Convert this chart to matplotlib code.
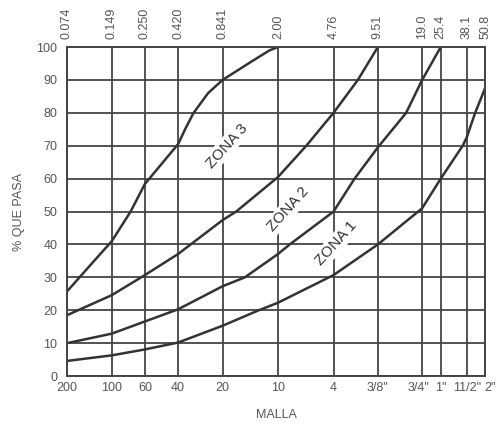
import numpy as np
import matplotlib
matplotlib.use("Agg")
import matplotlib.pyplot as plt
import matplotlib.transforms as mtransforms
from matplotlib.ticker import NullLocator

plt.rcParams['font.family'] = ['Liberation Sans', 'DejaVu Sans']

# aberturas de tamiz (mm) y designacion de malla
tamiz_mm = [0.074, 0.149, 0.250, 0.420, 0.841, 2.00, 4.76, 9.51, 19.0, 25.4, 38.1, 50.8]
tamiz_txt = ["0.074", "0.149", "0.250", "0.420", "0.841", "2.00", "4.76", "9.51",
             "19.0", "25.4", "38.1", "50.8"]
malla_txt = ["200", "100", "60", "40", "20", "10", "4", '3/8"', '3/4"', '1"', '11/2"', '2"']

# curvas limite
curva_a_x = [0.074, 0.106, 0.149, 0.200, 0.250, 0.420, 0.472, 0.535, 0.671, 0.841, 1.30, 1.75, 2.00]
curva_a_y = [25.7, 33.6, 41, 50, 58.4, 70.5, 75.3, 80, 86, 90, 95.4, 99, 100]

curva_b_x = [0.074, 0.149, 0.250, 0.420, 0.841, 1.04, 2.00, 3.11, 4.76, 6.96, 9.51]
curva_b_y = [18.5, 24.6, 30.7, 37.1, 47.4, 50, 60.5, 70, 80, 90, 100]

curva_c_x = [0.074, 0.149, 0.250, 0.420, 0.841, 1.19, 2.00, 2.40, 4.76, 6.61, 9.51, 14.8, 19.0, 25.4]
curva_c_y = [10, 12.9, 16.6, 20.3, 27.3, 30, 37.1, 40, 50, 60, 69.5, 80, 90, 100]

curva_d_x = [0.074, 0.149, 0.250, 0.420, 0.841, 1.48, 2.00, 4.76, 9.51, 19.0, 25.4, 35.8, 38.1, 43.5, 50.8]
curva_d_y = [4.6, 6.3, 8.1, 10.2, 15.3, 20, 22.3, 30.7, 40, 51, 60, 70, 72.5, 80, 87.5]

zonas = ["ZONA 3", "ZONA 2", "ZONA 1"]
zonas_x = [0.90, 2.34, 4.96]
zonas_y = [70, 50.6, 40.4]

gris = "#444444"
texto = "#555555"

fig = plt.figure(figsize=(4.96, 4.24), dpi=100)
ax = fig.add_axes([0.135, 0.113, 0.843, 0.776])

ax.set_xscale("log")
ax.set_xlim(tamiz_mm[0], tamiz_mm[-1])
ax.set_ylim(0, 100)

ax.set_xticks(tamiz_mm)
ax.set_xticklabels(malla_txt)
ax.xaxis.set_minor_locator(NullLocator())
ax.set_yticks(np.arange(0, 101, 10))
ax.tick_params(length=0, labelsize=9, colors=texto)
ax.tick_params(axis="x", pad=4)
ax.tick_params(axis="y", pad=7)
ax.grid(True, color=gris, lw=1.3)
ax.set_axisbelow(True)
for s in ax.spines.values():
    s.set_color(gris)
    s.set_linewidth(1.4)

# desplazar etiquetas apretadas
offs = {'3/4"': -4, '2"': 5}
for lbl in ax.get_xticklabels():
    d = offs.get(lbl.get_text(), 0)
    if d:
        lbl.set_transform(lbl.get_transform() + mtransforms.ScaledTranslation(d / 100, 0, fig.dpi_scale_trans))

top = ax.twiny()
top.set_xscale("log")
top.set_xlim(ax.get_xlim())
top.set_xticks(tamiz_mm)
top.set_xticklabels(tamiz_txt, rotation=90)
top.xaxis.set_minor_locator(NullLocator())
top.tick_params(length=0, labelsize=9, colors=texto, pad=6)
for s in top.spines.values():
    s.set_visible(False)

for cx, cy in [(curva_a_x, curva_a_y), (curva_b_x, curva_b_y),
               (curva_c_x, curva_c_y), (curva_d_x, curva_d_y)]:
    ax.plot(cx, cy, color="#333333", lw=1.8, solid_capstyle="round", solid_joinstyle="round")

for t, zx, zy in zip(zonas, zonas_x, zonas_y):
    ax.text(zx, zy, t, rotation=48, ha="center", va="center", fontsize=11,
            color="#333333", rotation_mode="anchor",
            bbox=dict(facecolor="white", edgecolor="none", pad=1.5))

ax.set_ylabel("% QUE PASA", fontsize=9, color=texto, labelpad=8)
ax.set_xlabel("MALLA", fontsize=9, color=texto, labelpad=11)

fig.savefig("out.png", dpi=100)
